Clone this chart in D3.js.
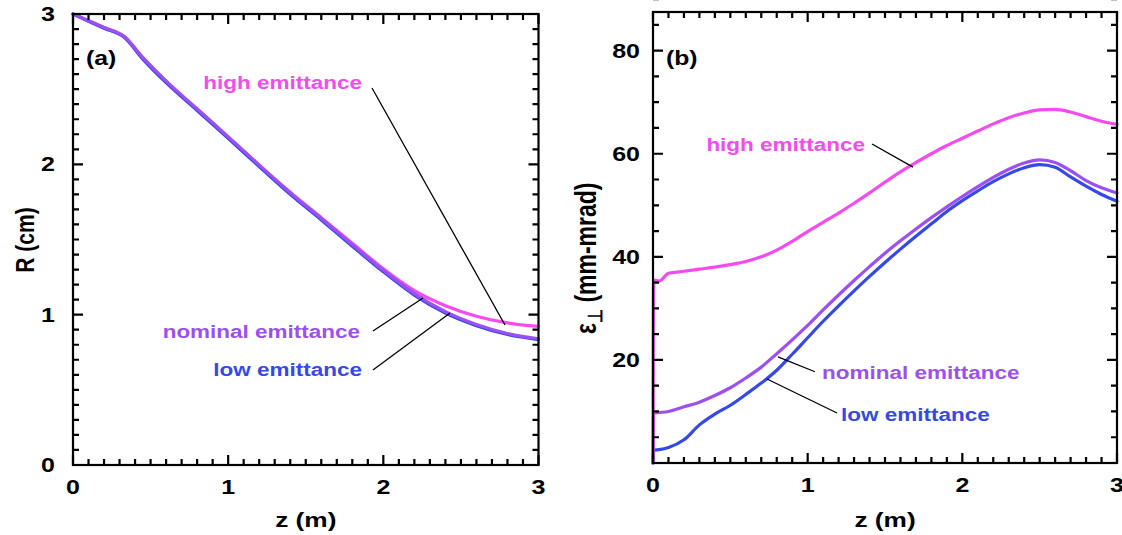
<!DOCTYPE html>
<html>
<head>
<meta charset="utf-8">
<script src="https://cdn.jsdelivr.net/npm/d3@7"></script>
<style>
  html, body { margin: 0; padding: 0; background: #fff; }
  svg { display: block; }
  text { font-family: "Liberation Sans", Arial, Helvetica, sans-serif; font-weight: bold; }
</style>
</head>
<body>
<svg id="fig" width="1122" height="535"></svg>
<script>
// ---- Panel (a): beam radius R (cm) along z (m) ----
const zR       = [0, 0.1, 0.2, 0.33, 0.45, 0.6, 0.8, 1.0, 1.2, 1.4, 1.6, 1.8, 2.0, 2.2, 2.4, 2.6, 2.8, 3.0];
const rHigh    = [3.0, 2.955, 2.91, 2.85, 2.71, 2.553, 2.368, 2.183, 1.995, 1.815, 1.645, 1.475, 1.305, 1.16, 1.06, 0.99, 0.945, 0.922];
const rNominal = [3.0, 2.955, 2.91, 2.85, 2.71, 2.553, 2.368, 2.183, 1.995, 1.81, 1.64, 1.465, 1.295, 1.14, 1.02, 0.935, 0.875, 0.84];
const rLow     = [3.0, 2.952, 2.905, 2.845, 2.70, 2.543, 2.358, 2.173, 1.985, 1.80, 1.63, 1.455, 1.285, 1.13, 1.01, 0.927, 0.868, 0.834];

// ---- Panel (b): transverse emittance (mm-mrad) along z (m) ----
const zE       = [0, 0.004, 0.04, 0.1, 0.2, 0.3, 0.4, 0.5, 0.6, 0.7, 0.8, 0.9, 1.0, 1.1, 1.2, 1.3, 1.4, 1.5, 1.6, 1.7, 1.8, 1.9, 2.0, 2.1, 2.2, 2.3, 2.4, 2.5, 2.6, 2.7, 2.8, 2.9, 3.0];
const eHigh    = [0, 35.5, 35.3, 36.8, 37.2, 37.6, 38.0, 38.5, 39.1, 40.0, 41.3, 43.0, 44.9, 46.7, 48.5, 50.4, 52.4, 54.5, 56.5, 58.3, 60.0, 61.6, 63.0, 64.4, 65.8, 67.0, 67.9, 68.5, 68.6, 68.1, 67.2, 66.3, 65.7];
const eNominal = [0, 9.7, 9.8, 10.0, 10.9, 11.8, 13.1, 14.6, 16.5, 18.6, 21.2, 23.9, 26.7, 29.7, 32.6, 35.4, 38.1, 40.7, 43.1, 45.4, 47.6, 49.7, 51.7, 53.6, 55.4, 57.0, 58.2, 58.8, 58.3, 56.7, 54.8, 53.4, 52.4];
const eLow     = [0, 2.5, 2.6, 3.0, 4.5, 7.4, 9.5, 11.2, 13.3, 15.5, 18.0, 21.1, 24.3, 27.5, 30.5, 33.4, 36.2, 38.9, 41.5, 44.0, 46.4, 48.8, 50.9, 52.8, 54.6, 56.1, 57.3, 57.9, 57.4, 55.5, 53.7, 52.1, 50.8];

// Axis ticks and labels
const zTicks    = [0, 1, 2, 3];
const rTicks    = [0, 1, 2, 3];
const eTicks    = [20, 40, 60, 80];
const eTickText = ["20", "40", "60", "80"];

// Series names and colours
const seriesNames = ["high emittance", "nominal emittance", "low emittance"];
const colHigh = "#f44bef", colNominal = "#9b50f2", colLow = "#3549e6";

// Annotation leaders (data coordinates) and label anchors
const leadA = [[[1.927, 2.508], [2.784, 0.931]], [[1.933, 0.891], [2.256, 1.111]], [[1.933, 0.632], [2.43, 1.011]]];
const textA = [[1.862, 2.50], [1.85, 0.845], [1.862, 0.592]];
const leadB = [[[1.416, 61.9], [1.681, 57.4]], [[1.047, 17.7], [0.808, 20.6]], [[1.19, 9.7], [0.737, 16.3]]];
const textB = [[1.371, 60.6], [1.093, 16.3], [1.216, 8.15]];

const SX = 1.25;               // horizontal stretch of the lettering
const svg = d3.select("#fig");

// text helper: draws stretched lettering anchored at (x, y)
function label(g, x, y, str, size, anchor, color, rotate) {
  return g.append("text")
    .attr("transform", `translate(${x},${y}) scale(${SX},1)` + (rotate ? " rotate(-90)" : ""))
    .attr("font-size", size)
    .attr("text-anchor", anchor)
    .attr("fill", color || "#000")
    .text(str);
}

function panel(opt) {
  const g = svg.append("g");
  const x = d3.scaleLinear().domain([0, 3]).range([opt.left, opt.right]);
  const y = d3.scaleLinear().domain(opt.yDomain).range([opt.bottom, opt.top]);

  // curves
  const line = d3.line().x(d => x(d[0])).y(d => y(d[1])).curve(d3.curveMonotoneX);
  opt.series.forEach(s => {
    g.append("path")
      .datum(opt.z.map((zz, i) => [zz, s.v[i]]))
      .attr("d", line)
      .attr("fill", "none")
      .attr("stroke", s.c)
      .attr("stroke-width", 3.2)
      .attr("stroke-linejoin", "round")
      .attr("stroke-linecap", "round");
  });

  // inward ticks on all four sides
  const isInt = v => Math.abs(v - Math.round(v)) < 1e-6;
  const minorX = d3.range(0, 31).map(i => i / 10);
  const nY = Math.round((opt.yDomain[1] - opt.yDomain[0]) / opt.yMinor);
  const minorY = d3.range(0, nY + 1).map(i => opt.yDomain[0] + i * opt.yMinor);
  const yMaj = v => Math.abs(v) < 1e-6 || opt.yMajor.some(m => Math.abs(m - v) < 1e-6);
  const p = d3.path();
  minorX.forEach(v => {
    const L = isInt(v) ? 10 : 6, px = x(v);
    p.moveTo(px, opt.bottom); p.lineTo(px, opt.bottom - L);
    p.moveTo(px, opt.top);    p.lineTo(px, opt.top + L);
  });
  minorY.forEach(v => {
    const L = yMaj(v) ? 10 : 6, py = y(v);
    p.moveTo(opt.left, py);  p.lineTo(opt.left + L, py);
    p.moveTo(opt.right, py); p.lineTo(opt.right - L, py);
  });
  g.append("path")
    .attr("d", p.toString())
    .attr("fill", "none")
    .attr("stroke", "#000")
    .attr("stroke-width", 2.2);

  // frame
  g.append("rect")
    .attr("x", opt.left).attr("y", opt.top)
    .attr("width", opt.right - opt.left).attr("height", opt.bottom - opt.top)
    .attr("fill", "none").attr("stroke", "#000").attr("stroke-width", 2.2);

  // tick labels
  zTicks.forEach(v => label(g, x(v), opt.bottom + 29, String(v), 20, "middle"));
  opt.yMajor.forEach((v, i) => label(g, opt.left - opt.yGap, y(v) + 7, opt.yLabels[i], 20, "end"));

  // axis title
  label(g, (opt.left + opt.right) / 2, 527, "z (m)", 21, "middle");

  // panel tag
  g.append("text")
    .attr("transform", `translate(${opt.left + 13},${65}) scale(1.18,1)`)
    .attr("font-size", 21).attr("font-weight", "normal")
    .text(opt.tag);

  // annotations
  opt.lead.forEach(l => {
    g.append("path")
      .attr("d", `M${x(l[0][0])},${y(l[0][1])}L${x(l[1][0])},${y(l[1][1])}`)
      .attr("fill", "none")
      .attr("stroke", "#000").attr("stroke-width", 1.3);
  });
  opt.text.forEach((t, i) => {
    label(g, x(t[0]), y(t[1]), seriesNames[i], 18, opt.textAnchor[i], opt.series.find(s => s.n === i).c);
  });
  return { g, x, y };
}

// (a) radius
const pa = panel({
  left: 73, right: 538.5, top: 14, bottom: 465,
  yDomain: [0, 3], yMinor: 0.1, yMajor: rTicks, yLabels: rTicks.map(String), yGap: 18,
  z: zR,
  series: [
    { n: 0, v: rHigh, c: colHigh },
    { n: 2, v: rLow, c: colLow },
    { n: 1, v: rNominal, c: colNominal }
  ],
  tag: "(a)",
  lead: leadA, text: textA, textAnchor: ["end", "end", "end"]
});
label(pa.g, 34, 240, "R (cm)", 21, "middle", "#000", true);

// (b) emittance
const pb = panel({
  left: 653, right: 1117, top: 12, bottom: 463,
  yDomain: [0, 87.5], yMinor: 5, yMajor: eTicks, yLabels: eTickText, yGap: 13,
  z: zE,
  series: [
    { n: 2, v: eLow, c: colLow },
    { n: 1, v: eNominal, c: colNominal },
    { n: 0, v: eHigh, c: colHigh }
  ],
  tag: "(b)",
  lead: leadB, text: textB, textAnchor: ["end", "start", "start"]
});
const eps = pb.g.append("text")
  .attr("transform", `translate(596,334) scale(${SX},1) rotate(-90)`)
  .attr("font-size", 23).attr("text-anchor", "start");
eps.append("tspan").text("ε");
eps.append("tspan").attr("font-size", 16).attr("dy", 5).text("⊥");
eps.append("tspan").attr("dy", -5).text(" (mm-mrad)");
</script>
</body>
</html>
